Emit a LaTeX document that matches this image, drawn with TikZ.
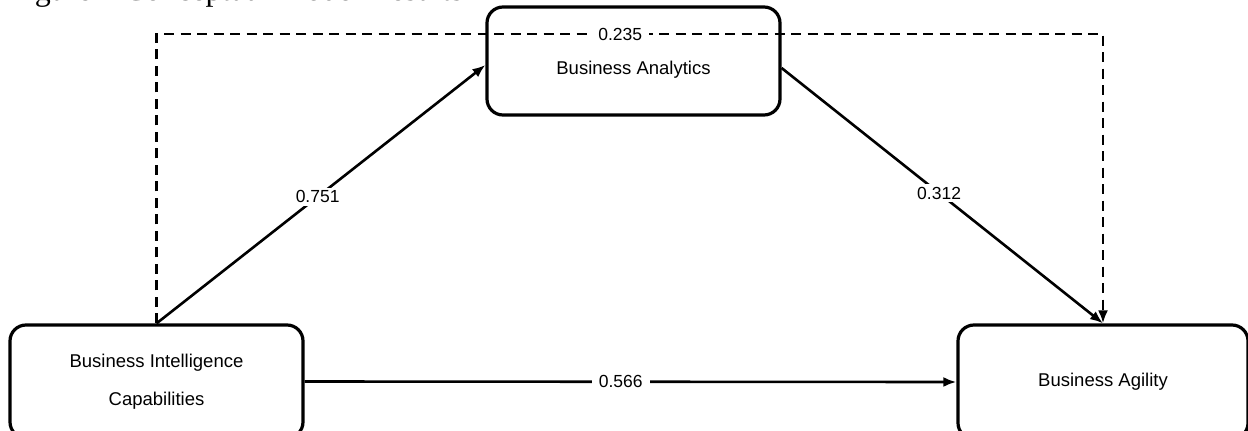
\documentclass[tikz,border=0pt]{standalone}
\usepackage{fontspec}
\setmainfont{Liberation Sans}
\newfontfamily\capfont{Liberation Serif}
\usetikzlibrary{arrows.meta}
\begin{document}
\begin{tikzpicture}[x=1pt,y=-1pt,
  box/.style={draw, fill=white, line width=3.2pt, rounded corners=16pt, inner sep=0pt,
    font=\fontsize{18.5}{38}\selectfont, align=center},
  conn/.style={line width=2.6pt, -{Latex[length=13pt,width=10pt]}},
  dashline/.style={line width=2.8pt, dash pattern=on 10pt off 6.5pt, -{Latex[length=13pt,width=10pt]}},
  val/.style={fill=white, inner xsep=7pt, inner ysep=3pt, font=\fontsize{17.5}{19}\selectfont}]
\useasboundingbox (0,0) rectangle (1248,431);
\node[anchor=base west, inner sep=0pt] (cap) at (8,1) {\resizebox{455pt}{!}{\capfont Figure 1 Conceptual Model Results}};
\node[box, minimum width=293pt, minimum height=113pt] (bic) at (156.5,381.5) {Business Intelligence\\Capabilities};
\node[box, minimum width=293pt, minimum height=108pt] (ba) at (633.5,61) {\raisebox{-13.5pt}[0pt][0pt]{Business Analytics}};
\node[box, minimum width=290pt, minimum height=114pt] (bag) at (1103,382) {Business Agility};
\coordinate (c1) at (156.5,34);
\coordinate (c2) at (1103,34);
\draw[dashline] (bic.north) -- (c1) -- (c2) node[val, pos=0.49] (l235) {0.235} -- (bag.north);
\draw[conn] (bic.north) -- ([yshift=-4pt]ba.west) node[val, pos=0.49] (l751) {0.751};
\draw[conn] ([yshift=-7pt]ba.east) -- (bag.north) node[val, pos=0.49] (l312) {0.312};
\draw[conn] (bic.east) -- (bag.west) node[val, pos=0.485] (l566) {0.566};
\end{tikzpicture}
\end{document}
